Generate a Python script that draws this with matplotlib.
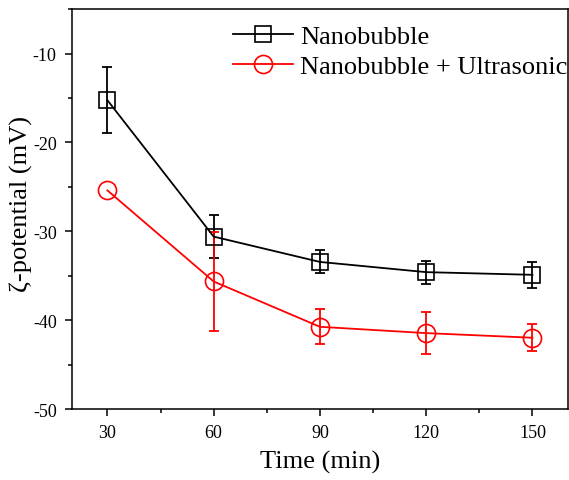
import matplotlib
matplotlib.use("Agg")
import matplotlib.pyplot as plt
from matplotlib.ticker import MultipleLocator

plt.rcParams['font.family'] = ['Liberation Serif', 'DejaVu Serif']
plt.rcParams['axes.unicode_minus'] = False

time_min = [30, 60, 90, 120, 150]
nb = [-15.25, -30.6, -33.45, -34.6, -34.9]
nb_err = [3.7, 2.45, 1.3, 1.3, 1.45]
nb_us = [-25.4, -35.65, -40.75, -41.46, -41.98]
nb_us_err = [0.0, 5.6, 1.97, 2.35, 1.5]

fig = plt.figure(figsize=(5.69, 4.81), dpi=100)
ax = fig.add_axes([0.1265, 0.1476, 0.8715, 0.8314])

series = [
    (nb, nb_err, 'black', 's', 11, 'Nanobubble'),
    (nb_us, nb_us_err, 'red', 'o', 13, 'Nanobubble + Ultrasonic'),
]
for y, err, c, m, ms, lab in series:
    ax.plot(time_min, y, color=c, marker=m, ms=ms, mfc='none', mew=1.2,
            lw=1.3, label=lab, zorder=3)
    # only draw bars where there is an error value
    xs = [t for t, e in zip(time_min, err) if e > 0]
    ys = [v for v, e in zip(y, err) if e > 0]
    es = [e for e in err if e > 0]
    ax.errorbar(xs, ys, yerr=es, fmt='none', ecolor=c, capsize=3.6,
                elinewidth=1.3, capthick=1.3, zorder=2)

ax.set_xlim(20, 160)
ax.set_ylim(-50, -5)
ax.xaxis.set_major_locator(MultipleLocator(30))
ax.xaxis.set_minor_locator(MultipleLocator(15))
ax.yaxis.set_major_locator(MultipleLocator(10))
ax.yaxis.set_minor_locator(MultipleLocator(5))
ax.tick_params(which='both', direction='out', width=1.1, labelsize=13)
ax.tick_params(which='major', length=5, pad=6)
ax.tick_params(which='minor', length=3)
for s in ax.spines.values():
    s.set_linewidth(1.1)

ax.set_xlabel('Time (min)', fontsize=19, labelpad=6)
ax.set_ylabel('ζ-potential (mV)', fontsize=19)
ax.yaxis.set_label_coords(-0.078, 0.515)

ax.legend(loc='upper left', bbox_to_anchor=(0.3246, 0.962), frameon=False,
          fontsize=19, handlelength=2.27, handletextpad=0.27,
          labelspacing=0.26, borderaxespad=0, borderpad=0)

fig.savefig('out.png', dpi=100)
